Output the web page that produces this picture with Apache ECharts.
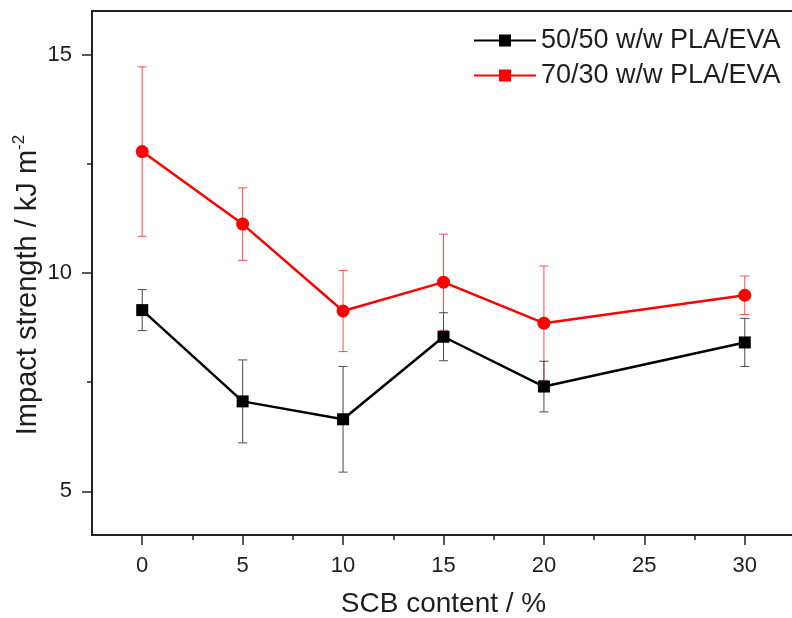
<!DOCTYPE html>
<html>
<head>
<meta charset="utf-8">
<script src="https://cdn.jsdelivr.net/npm/echarts@6/dist/echarts.min.js"></script>
<style>
  html, body { margin: 0; padding: 0; background: #fff; }
  #chart { width: 792px; height: 618px; }
</style>
</head>
<body>
<div id="chart"></div>
<script>
// SCB content (%) and measured impact strength (kJ m^-2) with standard deviations
const scbContent = [0, 5, 10, 15, 20, 30];
const blend5050 = [9.15, 7.06, 6.65, 8.54, 7.40, 8.41];
const blend5050Err = [0.47, 0.95, 1.21, 0.55, 0.58, 0.55];
const blend7030 = [12.78, 11.12, 9.13, 9.79, 8.85, 9.49];
const blend7030Err = [1.94, 0.83, 0.93, 1.10, 1.31, 0.44];

const seriesNames = ['50/50 w/w PLA/EVA', '70/30 w/w PLA/EVA'];

// Axis ticks
const xMajorTicks = [0, 5, 10, 15, 20, 25, 30];
const xMinorTicks = [2.5, 7.5, 12.5, 17.5, 22.5, 27.5];
const yMajorTicks = [5, 10, 15];
const yMinorTicks = [7.5, 12.5];

const FONT = "'Liberation Sans', Arial, Helvetica, sans-serif";
const INK = '#1e1e1e';
const RED = '#ff0000';
const BLACK = '#000000';

function pairs(xs, ys) {
  return xs.map((x, i) => [x, ys[i]]);
}

// Vertical error bars with short caps
function errorBars(values, errs, color, z) {
  return {
    type: 'custom',
    silent: true,
    z: z,
    data: scbContent.map((x, i) => [x, values[i] - errs[i], values[i] + errs[i]]),
    encode: { x: 0, y: [1, 2] },
    renderItem: function (params, api) {
      const x = api.value(0);
      const lo = api.coord([x, api.value(1)]);
      const hi = api.coord([x, api.value(2)]);
      const hw = 4.5;
      const style = { stroke: color, lineWidth: 1 };
      return {
        type: 'group',
        children: [
          { type: 'line', shape: { x1: lo[0], y1: lo[1], x2: hi[0], y2: hi[1] }, style: style },
          { type: 'line', shape: { x1: lo[0] - hw, y1: lo[1], x2: lo[0] + hw, y2: lo[1] }, style: style },
          { type: 'line', shape: { x1: hi[0] - hw, y1: hi[1], x2: hi[0] + hw, y2: hi[1] }, style: style }
        ]
      };
    }
  };
}

const xBase = { type: 'value', min: -2.5, max: 32.5, splitLine: { show: false } };
const yBase = { type: 'value', min: 4, max: 16, splitLine: { show: false } };

const option = {
  animation: false,
  backgroundColor: '#ffffff',
  textStyle: { fontFamily: FONT },
  grid: {
    left: 92, top: 11, right: -3, bottom: 83,
    outerBoundsMode: 'none',
    containLabel: false,
    show: true, borderColor: '#222', borderWidth: 2
  },
  legend: {
    data: seriesNames,
    orient: 'vertical',
    left: 468, top: 22,
    itemWidth: 62, itemHeight: 15, itemGap: 8,
    selectedMode: false,
    textStyle: { fontSize: 27, lineHeight: 27, color: INK, fontFamily: FONT }
  },
  xAxis: [
    Object.assign({}, xBase, {
      position: 'bottom',
      name: 'SCB content / %',
      nameLocation: 'middle',
      nameGap: 55,
      nameMoveOverlap: false,
      nameTextStyle: { fontSize: 28, color: INK, fontFamily: FONT },
      axisLine: { show: true, onZero: false, lineStyle: { color: '#222', width: 2 } },
      axisTick: { show: true, length: 10, lineStyle: { color: '#222', width: 1.5 }, customValues: xMajorTicks },
      axisLabel: { show: true, fontSize: 22, color: INK, margin: 20, fontFamily: FONT, customValues: xMajorTicks }
    }),
    Object.assign({}, xBase, {
      position: 'bottom',
      axisLine: { show: false, onZero: false },
      axisTick: { show: true, length: 5, lineStyle: { color: '#222', width: 1.5 }, customValues: xMinorTicks },
      axisLabel: { show: false }
    })
  ],
  yAxis: [
    Object.assign({}, yBase, {
      position: 'left',
      name: 'Impact strength / kJ m{sup|-2}',
      nameLocation: 'middle',
      nameRotate: 90,
      nameGap: 47,
      nameMoveOverlap: false,
      nameTextStyle: {
        fontSize: 29, lineHeight: 34, color: INK, fontFamily: FONT,
        padding: [0, 24, 0, 0],
        rich: { sup: { fontSize: 17, lineHeight: 17, verticalAlign: 'top', color: INK, fontFamily: FONT } }
      },
      axisLine: { show: true, onZero: false, lineStyle: { color: '#222', width: 2 } },
      axisTick: { show: true, length: 10, lineStyle: { color: '#222', width: 1.5 }, customValues: yMajorTicks },
      axisLabel: { show: true, fontSize: 22, color: INK, margin: 20, fontFamily: FONT, customValues: yMajorTicks }
    }),
    Object.assign({}, yBase, {
      position: 'left',
      axisLine: { show: false, onZero: false },
      axisTick: { show: true, length: 5, lineStyle: { color: '#222', width: 1.5 }, customValues: yMinorTicks },
      axisLabel: { show: false }
    })
  ],
  series: [
    // legend keys: line with a square marker for both blends
    { type: 'line', name: seriesNames[0], data: [], symbol: 'rect', color: BLACK, lineStyle: { width: 2.5, color: BLACK } },
    { type: 'line', name: seriesNames[1], data: [], symbol: 'rect', color: RED, lineStyle: { width: 2.5, color: RED } },

    errorBars(blend7030, blend7030Err, '#ff4a4a', 2),
    {
      type: 'line', name: seriesNames[1], z: 3,
      data: pairs(scbContent, blend7030),
      symbol: 'circle', symbolSize: 13,
      color: RED,
      lineStyle: { width: 2.5, color: RED },
      itemStyle: { color: RED }
    },
    errorBars(blend5050, blend5050Err, '#4a4a4a', 4),
    {
      type: 'line', name: seriesNames[0], z: 5,
      data: pairs(scbContent, blend5050),
      symbol: 'rect', symbolSize: 12,
      color: BLACK,
      lineStyle: { width: 2.5, color: BLACK },
      itemStyle: { color: BLACK }
    }
  ]
};

const chart = echarts.init(document.getElementById('chart'), null, { renderer: 'canvas' });
chart.setOption(option);
</script>
</body>
</html>
